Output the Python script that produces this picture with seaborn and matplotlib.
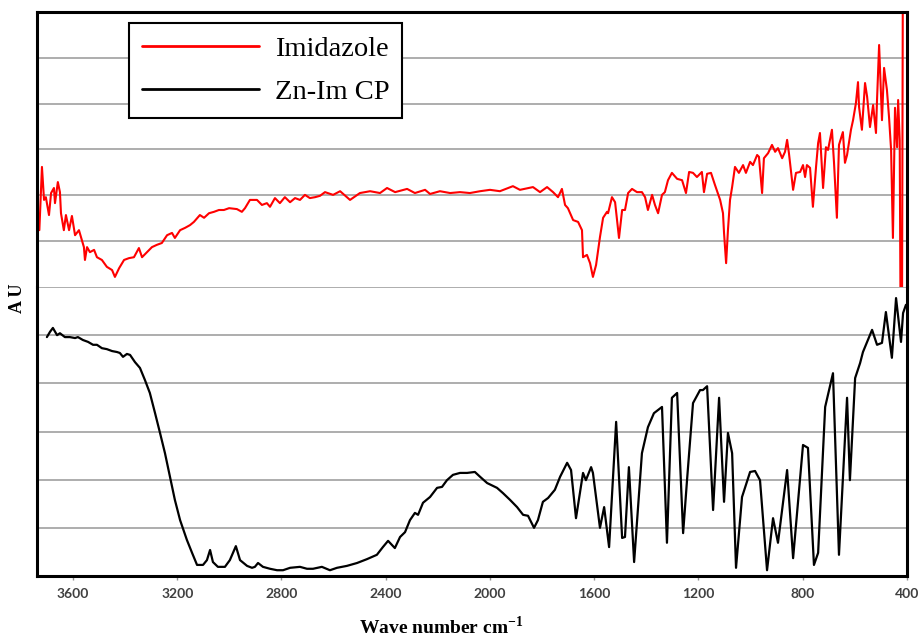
import matplotlib
matplotlib.use("Agg")
import matplotlib.pyplot as plt
from matplotlib.lines import Line2D
import pandas as pd
import seaborn as sns

# FTIR spectra: wavenumber (cm-1) and absorbance (arbitrary units, grid steps)
imid_wn = [3729, 3719, 3711, 3704, 3692, 3684, 3673, 3669, 3658, 3650, 3646, 3635, 3627,
           3615, 3604, 3592, 3577, 3558, 3554, 3546, 3535, 3519, 3508, 3489, 3470, 3450,
           3439, 3423, 3404, 3385, 3366, 3347, 3335, 3316, 3297, 3278, 3259, 3239, 3220,
           3209, 3189, 3170, 3151, 3136, 3113, 3097, 3078, 3059, 3040, 3021, 3001, 2971,
           2952, 2940, 2921, 2894, 2875, 2856, 2844, 2825, 2806, 2787, 2767, 2748, 2729,
           2710, 2691, 2671, 2652, 2633, 2602, 2575, 2537, 2499, 2460, 2422, 2395, 2364,
           2318, 2288, 2249, 2230, 2192, 2153, 2115, 2077, 2038, 2000, 1962, 1912, 1885,
           1835, 1808, 1781, 1758, 1739, 1724, 1712, 1701, 1681, 1662, 1647, 1643, 1628,
           1616, 1605, 1593, 1578, 1566, 1551, 1547, 1532, 1520, 1505, 1493, 1482, 1470,
           1455, 1436, 1417, 1405, 1394, 1378, 1367, 1355, 1340, 1329, 1317, 1302, 1282,
           1263, 1248, 1236, 1221, 1206, 1187, 1179, 1167, 1152, 1137, 1117, 1106, 1102,
           1094, 1087, 1079, 1071, 1060, 1052, 1045, 1029, 1018, 1002, 991, 975, 968, 956,
           949, 933, 918, 906, 895, 879, 868, 860, 853, 837, 826, 810, 799, 791, 784, 772,
           761, 749, 741, 734, 726, 722, 711, 703, 688, 680, 669, 661, 646, 638, 630, 615,
           607, 596, 588, 584, 573, 561, 553, 542, 530, 519, 515, 507, 496, 488, 477, 469,
           461, 454, 446, 438, 434, 428, 425, 419, 416, 405]
imid_abs = [1.24, 2.62, 1.90, 1.96, 1.57, 2.05, 2.16, 1.83, 2.29, 2.07, 1.61, 1.24, 1.57,
            1.24, 1.55, 1.13, 1.24, 0.87, 0.59, 0.87, 0.76, 0.81, 0.65, 0.59, 0.44, 0.37,
            0.22, 0.41, 0.59, 0.63, 0.65, 0.85, 0.65, 0.76, 0.87, 0.92, 0.96, 1.13, 1.18,
            1.07, 1.24, 1.29, 1.35, 1.42, 1.57, 1.51, 1.61, 1.64, 1.68, 1.68, 1.72, 1.70,
            1.64, 1.72, 1.90, 1.90, 1.79, 1.83, 1.75, 1.94, 1.83, 1.96, 1.85, 1.94, 1.90,
            2.01, 1.94, 1.96, 1.99, 2.07, 2.01, 2.09, 1.90, 2.05, 2.09, 2.05, 2.16, 2.07,
            2.14, 2.05, 2.12, 2.03, 2.09, 2.05, 2.07, 2.05, 2.09, 2.12, 2.09, 2.20, 2.12,
            2.18, 2.07, 2.18, 2.07, 1.96, 2.14, 1.79, 1.72, 1.46, 1.42, 1.24, 0.65, 0.70,
            0.52, 0.22, 0.48, 1.09, 1.51, 1.64, 1.61, 1.96, 1.85, 1.07, 1.68, 1.68, 2.05,
            2.14, 2.07, 2.07, 1.96, 1.68, 2.01, 1.79, 1.61, 2.01, 2.07, 2.33, 2.49, 2.36,
            2.33, 2.05, 2.51, 2.49, 2.40, 2.51, 2.07, 2.47, 2.49, 2.23, 1.90, 1.61, 1.18,
            0.52, 1.24, 1.90, 2.18, 2.62, 2.55, 2.49, 2.66, 2.49, 2.73, 2.66, 2.88, 2.84, 2.05,
            2.81, 2.92, 3.10, 2.95, 3.03, 2.81, 2.95, 3.21, 2.92, 2.12, 2.49, 2.51, 2.66, 2.40, 2.66, 2.60,
            1.75, 2.62, 3.14, 3.36, 2.55, 2.16, 3.05, 2.99, 3.43, 2.71, 1.51, 3.10, 3.38, 2.71, 2.88, 3.43,
            3.64, 4.01, 4.47, 3.93, 3.43, 4.45, 4.15, 3.49, 3.97, 3.36, 4.08, 5.28, 3.64, 4.78, 4.30, 3.71,
            2.99, 1.07, 3.91, 3.05, 4.08, 3.20, -0.30, -0.30, 6.50, 6.50]

znim_wn = [3700, 3688, 3677, 3661, 3650, 3631, 3612, 3592, 3581, 3562, 3542, 3523, 3508,
           3489, 3470, 3450, 3431, 3420, 3408, 3393, 3381, 3362, 3343, 3324, 3305, 3285,
           3266, 3247, 3228, 3209, 3189, 3163, 3143, 3124, 3101, 3086, 3074, 3063, 3044,
           3017, 2998, 2975, 2959, 2932, 2913, 2902, 2890, 2871, 2844, 2817, 2794, 2767,
           2729, 2702, 2679, 2645, 2614, 2587, 2549, 2510, 2472, 2434, 2411, 2391, 2365,
           2345, 2326, 2307, 2288, 2276, 2257, 2230, 2203, 2184, 2165, 2142, 2115, 2088,
           2058, 2038, 2011, 1973, 1950, 1923, 1896, 1873, 1854, 1831, 1816, 1797, 1777,
           1751, 1731, 1704, 1689, 1670, 1655, 1643, 1632, 1612, 1605, 1578, 1562, 1543,
           1516, 1493, 1482, 1467, 1447, 1417, 1394, 1371, 1340, 1321, 1302, 1282, 1259,
           1244, 1221, 1194, 1183, 1167, 1144, 1121, 1102, 1087, 1071, 1056, 1033, 1002,
           983, 964, 937, 914, 895, 860, 837, 799, 780, 757, 741, 714, 684, 661, 630, 619,
           599, 580, 569, 534, 515, 496, 481, 458, 442, 423, 415, 404]
znim_abs = [4.96, 5.07, 5.15, 5.00, 5.04, 4.96, 4.96, 4.94, 4.96, 4.90, 4.86, 4.80, 4.80,
            4.73, 4.71, 4.67, 4.65, 4.63, 4.55, 4.61, 4.59, 4.44, 4.32, 4.07, 3.80, 3.38,
            2.97, 2.55, 2.06, 1.58, 1.16, 0.75, 0.48, 0.23, 0.23, 0.33, 0.54, 0.29, 0.19,
            0.19, 0.33, 0.62, 0.33, 0.21, 0.17, 0.19, 0.27, 0.19, 0.15, 0.12, 0.12, 0.17,
            0.19, 0.15, 0.15, 0.19, 0.12, 0.17, 0.21, 0.27, 0.35, 0.44, 0.60, 0.73, 0.58,
            0.81, 0.91, 1.16, 1.31, 1.27, 1.52, 1.64, 1.83, 1.85, 1.99, 2.10, 2.14, 2.14,
            2.16, 2.06, 1.93, 1.83, 1.72, 1.58, 1.43, 1.27, 1.25, 1.00, 1.16, 1.54, 1.62,
            1.79, 2.06, 2.35, 2.20, 1.20, 1.72, 2.14, 1.99, 2.26, 2.14, 1.00, 1.43, 0.60,
            3.20, 0.79, 0.81, 2.26, 0.29, 2.55, 3.09, 3.38, 3.51, 0.69, 3.70, 3.80, 0.89,
            1.99, 3.59, 3.86, 3.86, 3.94, 1.37, 3.70, 1.54, 2.97, 2.55, 0.17, 1.64, 2.16,
            2.18, 1.99, 0.12, 1.20, 0.69, 2.20, 0.37, 2.72, 2.66, 0.23, 0.48, 3.51, 4.21,
            0.44, 3.70, 1.99, 4.11, 4.42, 4.65, 5.11, 4.80, 4.84, 5.48, 4.53, 5.77, 4.86,
            5.46, 5.63]

series_names = ["Imidazole", "Zn-Im CP"]
series_colors = ["#ff0000", "#000000"]
xticks = [3600, 3200, 2800, 2400, 2000, 1600, 1200, 800, 400]

sns.set_theme(style="white")
plt.rcParams["mathtext.fontset"] = "custom"
plt.rcParams["mathtext.rm"] = "Liberation Serif:bold"
plt.rcParams["mathtext.bf"] = "Liberation Serif:bold"
plt.rcParams["text.color"] = "black"

imid = pd.DataFrame({"wn": imid_wn, "abs": imid_abs})
znim = pd.DataFrame({"wn": znim_wn, "abs": znim_abs})

fig = plt.figure(figsize=(9.19, 6.37), dpi=100)
ax_top = fig.add_axes([37 / 919, 350 / 637, 870 / 919, 275 / 637])
ax_bot = fig.add_axes([37 / 919, 61 / 637, 870 / 919, 289 / 637])

sns.lineplot(data=imid, x="wn", y="abs", ax=ax_top, color=series_colors[0],
             linewidth=1.5, sort=False, estimator=None)
sns.lineplot(data=znim, x="wn", y="abs", ax=ax_bot, color=series_colors[1],
             linewidth=1.6, sort=False, estimator=None)

for ax, grid_levels in ((ax_top, [1, 2, 3, 4, 5]), (ax_bot, [1, 2, 3, 4, 5, 6])):
    ax.set_xlim(3738, 400)
    ax.set_ylim(0, 6)
    ax.set_yticks(grid_levels)
    ax.set_yticklabels([])
    ax.tick_params(axis="y", length=0)
    ax.grid(axis="y", color="#a0a0a0", linewidth=1.2)
    ax.grid(axis="x", visible=False)
    ax.set_xlabel("")
    ax.set_ylabel("")
    ax.set_facecolor("white")
    for s in ax.spines.values():
        s.set_color("black")
        s.set_linewidth(2.2)

ax_top.spines["bottom"].set_visible(False)
ax_top.set_xticks([])
ax_bot.spines["top"].set_visible(False)
ax_bot.set_xticks(xticks)
ax_bot.set_xticklabels([str(t) for t in xticks], fontfamily="Lato",
                       fontweight="bold", fontsize=10, color="#404040")
ax_bot.tick_params(axis="x", length=3, width=1, color="#909090", pad=6,
                   direction="out", bottom=True)

handles = [Line2D([], [], color=c, linewidth=2) for c in series_colors]
leg = ax_top.legend(handles, series_names, loc="upper left",
                    bbox_to_anchor=(0.106, 0.96), borderaxespad=0,
                    prop={"family": "Liberation Serif", "size": 20.5},
                    handlelength=4.1, handletextpad=0.56, borderpad=0.45,
                    labelspacing=0.6, frameon=True, fancybox=False)
leg.get_frame().set_edgecolor("black")
leg.get_frame().set_linewidth(1.5)
leg.get_frame().set_alpha(1)
for t in leg.get_texts():
    t.set_color("black")

fig.text(441 / 919, 1 - 627 / 637, r"Wave number cm$^{-1}$", ha="center", va="center",
         fontfamily="Liberation Serif", fontweight="bold", fontsize=14, color="black")
fig.text(18 / 919, 1 - 298 / 637, "A U", rotation=90, ha="center", va="center",
         fontfamily="Liberation Serif", fontweight="bold", fontsize=13, color="black")

fig.savefig("out.png", dpi=100, facecolor="white")
